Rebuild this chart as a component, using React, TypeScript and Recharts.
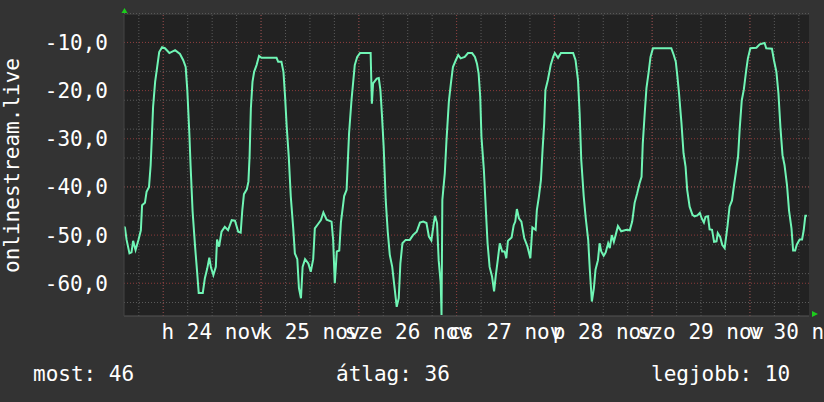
import React from 'react';
import { LineChart, Line, XAxis, YAxis, CartesianGrid } from 'recharts';

// [hours since 24 nov 00:00, value]
const nov23 = [
  [-9.6, -48.2], [-9.4, -48.5], [-9.0, -51], [-8.3, -53.8], [-7.8, -53.6], [-7.4, -51.2], [-6.8, -53.1],
  [-6.1, -51], [-5.5, -49], [-5.2, -43.8], [-4.5, -43.3], [-4.1, -41], [-3.5, -40], [-3.1, -35.5],
  [-2.8, -29.6], [-2.5, -23.4], [-2.0, -18.2], [-1.5, -15.1], [-1.0, -12], [-0.3, -11],
];
const nov24 = [
  [0.4, -11.2], [1.5, -12.2], [2.9, -11.6], [4.1, -12.4], [4.9, -13.7], [5.5, -15.1], [5.9, -19.9],
  [6.4, -28.9], [6.7, -35.5], [7.2, -45.1], [7.8, -52.3], [8.3, -57.6], [8.7, -62], [9.7, -62],
  [10.2, -59], [10.8, -56.9], [11.3, -54.7], [11.7, -56.7], [12.3, -58.3], [12.9, -56.6], [13.2, -50.9],
  [13.7, -52.4], [14.3, -49.3], [15.1, -48.3], [15.9, -49], [16.8, -46.9], [17.6, -47], [18.4, -49.3],
  [19.0, -49.5], [19.4, -44.8], [19.8, -41.5], [20.5, -40.5], [20.9, -38.9], [21.2, -33.4], [21.5, -23.7],
  [21.9, -18.2], [22.3, -16.1], [22.9, -14.7], [23.5, -12.8],
];
const nov25 = [
  [24.1, -13.2], [27.8, -13.2], [28.2, -14], [29.0, -14], [29.5, -16.1], [29.9, -21.3], [30.3, -27.5],
  [30.8, -33.7], [31.3, -42], [31.9, -48.6], [32.3, -53.8], [32.9, -55], [33.3, -61], [33.8, -63.1],
  [34.2, -56.6], [34.8, -55], [35.6, -55.9], [36.2, -57.6], [36.8, -55], [37.2, -48.6], [38.0, -47.7],
  [38.7, -46.9], [39.3, -45.3], [40.1, -46.8], [41.3, -47.2], [41.7, -51], [42.1, -60], [42.6, -53.4],
  [43.2, -53.2], [43.6, -47.4], [44.4, -41.9], [45.0, -40.6], [45.6, -28.9], [46.2, -22], [47.0, -14.7],
  [47.6, -13],
];
const nov26 = [
  [48.3, -12.2], [50.9, -12.2], [51.2, -22.7], [51.5, -18.5], [52.4, -17.5], [52.9, -17.4], [53.3, -19.9],
  [53.7, -25.4], [54.1, -31.7], [54.6, -42.7], [55.1, -49.3], [55.6, -54.1], [56.2, -56.6], [56.7, -60.4],
  [57.3, -64.9], [57.8, -63.1], [58.2, -55.9], [58.7, -51.7], [59.5, -51], [60.5, -51], [61.3, -50],
  [62.2, -49.3], [63.0, -47.4], [63.8, -47.2], [64.6, -47.5], [65.2, -50.3], [65.8, -51.1], [66.4, -47.5],
  [66.7, -46], [67.2, -47.5], [67.6, -55.2], [68.1, -60], [68.3, -66.6], [68.5, -42.7], [69.1, -37.2],
  [69.5, -30.6], [70.1, -22.3], [70.6, -18.5], [71.1, -15.1], [71.8, -13.7],
];
const nov27 = [
  [72.4, -12.6], [73.0, -13.3], [74.0, -13], [74.8, -12.2], [75.8, -12.2], [76.5, -13], [77.0, -14.4],
  [77.4, -16.4], [77.8, -21.3], [78.1, -29.6], [78.7, -36.5], [79.2, -45.1], [79.6, -51.7], [80.1, -56.6],
  [80.7, -58.6], [81.2, -61.7], [81.6, -58.5], [82.1, -55.2], [82.6, -51.7], [83.2, -53.4], [83.8, -53.4],
  [84.2, -54.8], [84.6, -51.2], [85.5, -50.5], [86.0, -48], [86.4, -47.2], [86.8, -44.6], [87.3, -46.5],
  [87.9, -47.2], [88.6, -50.6], [89.4, -52.4], [90.1, -54.8], [90.6, -48.4], [91.4, -48.9], [91.7, -44.8],
  [92.2, -42], [92.7, -38.6], [93.1, -32.3], [93.5, -26.8], [93.8, -19.9], [94.4, -17.8], [95.1, -14.7],
  [95.7, -13],
];
const nov28 = [
  [96.1, -12.2], [96.9, -13.2], [97.6, -12.2], [100.6, -12.2], [101.2, -13.7], [101.8, -17.8], [102.2, -24.7],
  [102.6, -34.4], [103.2, -41.9], [103.7, -46.5], [104.3, -51], [104.7, -57.2], [105.2, -63.8], [105.7, -61],
  [106.1, -57.2], [106.7, -55.2], [107.1, -51.7], [107.5, -53.4], [108.1, -54.3], [108.6, -53.6], [109.2, -51.7],
  [109.6, -52.7], [110.1, -50], [110.6, -51.4], [111.1, -49.8], [111.6, -48.1], [112.4, -49.2], [113.7, -48.9],
  [114.5, -49], [115.1, -47.2], [115.7, -43.3], [116.3, -41.4], [116.9, -39.3], [117.4, -37.9], [117.7, -31],
  [118.2, -24.4], [118.6, -19.5], [119.1, -16.4], [119.6, -13],
];
const nov29 = [
  [120.2, -11.2], [124.7, -11.2], [125.3, -12.6], [125.8, -14], [126.2, -17.1], [126.6, -20.6], [127.2, -26.8],
  [127.7, -33], [128.2, -35.8], [128.6, -40.6], [129.2, -44.1], [129.9, -45.8], [130.4, -46.1], [131.1, -45.9],
  [131.7, -45.4], [132.2, -46.6], [132.7, -47.4], [133.1, -46.2], [133.7, -46.1], [134.1, -48.8], [134.7, -48.9],
  [135.2, -51.4], [135.8, -51.3], [136.1, -49.6], [136.7, -50.4], [137.2, -52], [137.8, -52.7], [138.5, -48.1],
  [139.0, -44.1], [139.6, -42.8], [140.1, -39.6], [140.5, -37.3], [141.1, -33.6], [141.5, -27.8], [142.0, -22],
  [142.5, -19.8], [143.1, -15.7], [143.5, -13.3],
];
const nov30 = [
  [144.1, -11.2], [145.6, -11.1], [146.4, -10.4], [147.6, -10.1], [148.0, -11.2], [149.4, -11.3], [149.9, -13.7],
  [150.5, -16.1], [151.0, -20.6], [151.5, -27.8], [152.0, -33.4], [152.5, -35.5], [153.1, -39.6], [153.6, -44.9],
  [154.2, -48.6], [154.6, -53.2], [155.1, -53.2], [155.5, -52], [156.2, -50.9], [156.8, -50.9], [157.2, -49],
  [157.6, -46], [158.0, -46],
];

const dayTicks = [12, 36, 60, 84, 108, 132, 156];
const dayLabels = ['h 24 nov', 'k 25 nov', 'sze 26 nov', 'cs 27 nov', 'p 28 nov', 'szo 29 nov', 'v 30 nov'];
const midnights = [0, 24, 48, 72, 96, 120, 144];
const yTicks = [-60, -50, -40, -30, -20, -10];
const stats = [
  { label: 'most', value: 46 },
  { label: 'átlag', value: 36 },
  { label: 'legjobb', value: 10 },
];

const data = [...nov23, ...nov24, ...nov25, ...nov26, ...nov27, ...nov28, ...nov29, ...nov30].map(([h, v]) => ({ h, v }));

const minorY: number[] = [];
for (let v = -66; v <= -4; v += 2) minorY.push(v);
const minorX: number[] = [];
for (let h = -6; h <= 156; h += 6) minorX.push(h);

const MONO = '"DejaVu Sans Mono", monospace';
const W = 824;
const H = 402;

const DayTick = (props: any) => {
  const { x, y, payload } = props;
  const i = dayTicks.indexOf(payload.value);
  return (
    <text x={x} y={y + 23} textAnchor="middle" fill="#ffffff" fontFamily={MONO} fontSize={21}>
      {dayLabels[i]}
    </text>
  );
};

const YTitle = (props: any) => {
  const vb = props.viewBox;
  const cy = vb.y + vb.height / 2;
  return (
    <text x={19} y={cy} transform={`rotate(-90, 19, ${cy})`} textAnchor="middle" fill="#ffffff" fontFamily={MONO} fontSize={21}>
      onlinestream.live
    </text>
  );
};

export default function App() {
  return (
    <div style={{ position: 'fixed', left: 0, top: 0, width: W, height: H, background: '#333333', overflow: 'hidden' }}>
      <LineChart width={W} height={H} data={data} margin={{ top: 15, right: 15, left: 0, bottom: 0 }}>
        <CartesianGrid
          fill="#222222"
          stroke="#5a5a5a"
          strokeDasharray="1 2"
          horizontalValues={minorY}
          verticalValues={minorX}
        />
        <CartesianGrid
          stroke="#8c3b3b"
          strokeDasharray="1 2"
          horizontalValues={yTicks}
          verticalValues={midnights}
        />
        <XAxis
          dataKey="h"
          type="number"
          domain={[-9.64, 158.5]}
          allowDataOverflow
          ticks={dayTicks}
          tick={<DayTick />}
          tickLine={false}
          tickSize={0}
          tickMargin={0}
          height={86}
          axisLine={{ stroke: '#555555' }}
          interval={0}
        />
        <YAxis
          type="number"
          domain={[-66.8, -4.3]}
          allowDataOverflow
          ticks={yTicks}
          width={124}
          tickLine={false}
          tickSize={0}
          tickMargin={16}
          axisLine={{ stroke: '#444444' }}
          tick={{ fill: '#ffffff', fontSize: 21, fontFamily: MONO }}
          tickFormatter={(v: number) => v.toFixed(1).replace('.', ',')}
          label={<YTitle />}
        />
        <Line
          type="linear"
          dataKey="v"
          stroke="#70f5b5"
          strokeWidth={2}
          dot={false}
          isAnimationActive={false}
        />
      </LineChart>
      <svg width={W} height={H} style={{ position: 'absolute', left: 0, top: 0, pointerEvents: 'none' }}>
        <polygon points="121.5,13 127.5,13 124.5,8" fill="#1ccc1c" />
        <polygon points="812,311 812,317 818,314" fill="#1ccc1c" />
        <text x={33} y={381} fill="#ffffff" fontFamily={MONO} fontSize={21}>{`${stats[0].label}: ${stats[0].value}`}</text>
        <text x={336} y={381} fill="#ffffff" fontFamily={MONO} fontSize={21}>{`${stats[1].label}: ${stats[1].value}`}</text>
        <text x={651} y={381} fill="#ffffff" fontFamily={MONO} fontSize={21}>{`${stats[2].label}: ${stats[2].value}`}</text>
      </svg>
    </div>
  );
}
